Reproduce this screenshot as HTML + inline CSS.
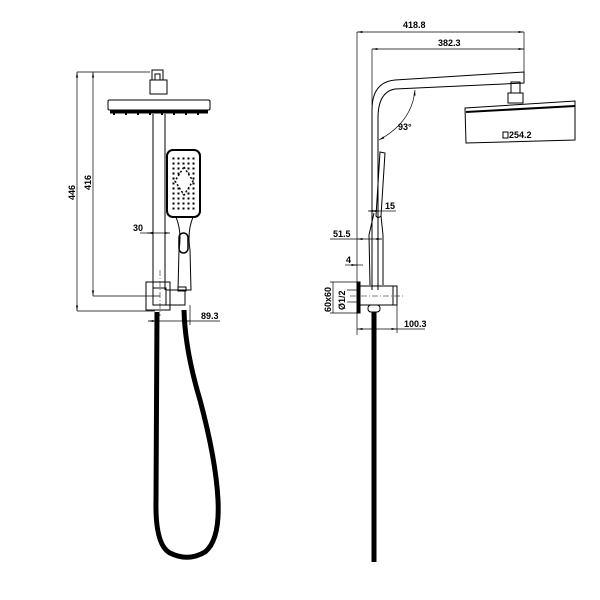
<!DOCTYPE html>
<html><head><style>body{margin:0;background:#fff}svg{display:block}text{font-family:"Liberation Sans",sans-serif;font-size:9px;font-weight:bold;fill:#000}</style></head><body>
<svg width="600" height="600" viewBox="0 0 600 600" xmlns="http://www.w3.org/2000/svg">
<defs><marker id="a" markerWidth="8" markerHeight="6" refX="8" refY="3" orient="auto-start-reverse"><path d="M0,1.5L8,3L0,4.5z" fill="#000"/></marker>
<pattern id="d" x="171" y="156" width="5" height="5" patternUnits="userSpaceOnUse"><rect x="1.5" y="1.5" width="2" height="2" fill="#000"/></pattern></defs>
<g fill="none" stroke="#000" stroke-width="1">
<line x1="77" y1="72" x2="150" y2="72" stroke-width="0.7"/>
<line x1="77" y1="311" x2="155" y2="311" stroke-width="0.7"/>
<line x1="77" y1="72" x2="77" y2="311" marker-start="url(#a)" marker-end="url(#a)" stroke-width="0.7"/>
<line x1="93" y1="72" x2="93" y2="296" marker-start="url(#a)" marker-end="url(#a)" stroke-width="0.7"/>
<line x1="93" y1="296" x2="160" y2="296" stroke-width="0.7"/>
<rect x="152" y="70" width="11" height="10"/><rect x="155" y="74" width="5" height="6"/>
<rect x="150" y="80" width="17" height="14"/>
<rect x="108" y="100" width="102" height="10" rx="1.5"/>
<line x1="110" y1="112" x2="208" y2="112" stroke-width="3"/>
<g stroke-width="2"><line x1="114" y1="110" x2="114" y2="115"/><line x1="126" y1="110" x2="126" y2="115"/><line x1="138" y1="110" x2="138" y2="115"/><line x1="150" y1="110" x2="150" y2="115"/><line x1="162" y1="110" x2="162" y2="115"/><line x1="174" y1="110" x2="174" y2="115"/><line x1="186" y1="110" x2="186" y2="115"/><line x1="198" y1="110" x2="198" y2="115"/></g>
<line x1="153" y1="114" x2="153" y2="290"/><line x1="165" y1="114" x2="165" y2="290"/>
<rect x="167" y="150" width="33" height="67" rx="6" stroke-width="2"/>
<path d="M176,217 Q182,232 179,250 L178,290 L191,290 L190,250 Q187,232 193,217"/>
<rect x="179" y="233" width="9" height="20" rx="4.5" stroke-width="1.5"/>
<line x1="147" y1="233" x2="170" y2="233" stroke-width="0.7" marker-start="url(#a)" marker-end="url(#a)"/>
<line x1="140" y1="233" x2="153" y2="233" stroke-width="0.7"/>
<rect x="146" y="282" width="24" height="28"/>
<rect x="153" y="288" width="13" height="17"/>
<rect x="166" y="290" width="19" height="15"/>
<rect x="178" y="287" width="8" height="4"/>
<line x1="160" y1="270" x2="160" y2="316" stroke-width="0.5" stroke-dasharray="6 2 1 2"/>
<line x1="148" y1="321" x2="190" y2="321" stroke-width="0.7" marker-start="url(#a)" marker-end="url(#a)"/>
<line x1="190" y1="321" x2="220" y2="321" stroke-width="0.7"/>
<line x1="190" y1="305" x2="190" y2="325" stroke-width="0.7"/>
<path d="M157,312 L156,500 Q155,545 170,553 Q188,562 205,552 Q220,540 218,500 Q216,460 200,400 Q185,350 184,310" stroke-width="5"/>
<line x1="357" y1="32" x2="524" y2="32" stroke-width="0.7" marker-start="url(#a)" marker-end="url(#a)"/>
<line x1="372" y1="49" x2="524" y2="49" stroke-width="0.7" marker-start="url(#a)" marker-end="url(#a)"/>
<line x1="357" y1="32" x2="357" y2="335" stroke-width="0.7"/>
<line x1="372" y1="49" x2="372" y2="105" stroke-width="0.7"/>
<line x1="524" y1="32" x2="524" y2="72" stroke-width="0.7"/>
<path d="M372,290 L372,110 Q372,82 395,80 L524,72 L524,83 L395,89 Q378,92 378,118 L378,290"/>
<path d="M415,90 Q412,122 379,140" stroke-width="0.7" marker-start="url(#a)" marker-end="url(#a)"/>
<rect x="511" y="82" width="9" height="11"/><rect x="508" y="93" width="15" height="10"/>
<path d="M465,108 L575,101 L575,140 L466,143 Z"/>
<line x1="466" y1="112" x2="575" y2="106" stroke-width="2"/>
<rect x="503" y="132" width="5" height="6"/>
<path d="M380,152 L385,153 L381,216 L378,218 L376,216 Z"/>
<path d="M374,213 L369,235 L370,285 M381,216 L383,235 L383,285"/>
<line x1="368" y1="211" x2="380" y2="211" stroke-width="0.7" marker-start="url(#a)" marker-end="url(#a)"/>
<line x1="380" y1="211" x2="396" y2="211" stroke-width="0.7"/>
<line x1="357" y1="239" x2="382" y2="239" stroke-width="0.7" marker-start="url(#a)" marker-end="url(#a)"/>
<line x1="330" y1="239" x2="357" y2="239" stroke-width="0.7"/>
<line x1="352" y1="265" x2="363" y2="265" stroke-width="0.7"/>
<line x1="345" y1="265" x2="357" y2="265" stroke-width="0.7" marker-end="url(#a)"/>
<rect x="357" y="282" width="3" height="31" fill="#000"/>
<rect x="360" y="286" width="37" height="19"/><line x1="393" y1="286" x2="393" y2="305"/>
<line x1="350" y1="296" x2="405" y2="296" stroke-width="0.5" stroke-dasharray="6 2 1 2"/>
<line x1="330" y1="282" x2="357" y2="282" stroke-width="0.7"/><line x1="330" y1="313" x2="357" y2="313" stroke-width="0.7"/>
<line x1="333" y1="282" x2="333" y2="313" stroke-width="0.7"/>
<line x1="347" y1="290" x2="360" y2="290" stroke-width="0.7"/><line x1="347" y1="302" x2="360" y2="302" stroke-width="0.7"/>
<rect x="368" y="305" width="12" height="7" rx="3"/>
<line x1="357" y1="329" x2="397" y2="329" stroke-width="0.7" marker-start="url(#a)" marker-end="url(#a)"/>
<line x1="397" y1="305" x2="397" y2="333" stroke-width="0.7"/>
<line x1="397" y1="329" x2="425" y2="329" stroke-width="0.7"/>
<line x1="374" y1="312" x2="374" y2="562" stroke-width="5"/>
</g>
<rect x="171" y="156" width="25" height="55" fill="url(#d)"/>
<path d="M184,167 L193,181 L184,195 L175,181Z" fill="#fff" stroke="#000" stroke-width="1.5" stroke-dasharray="2 2"/>
<text x="133" y="231">30</text>
<text x="201" y="319">89.3</text>
<text transform="translate(75,200) rotate(-90)">446</text>
<text transform="translate(91,190) rotate(-90)">416</text>
<text x="403" y="28">418.8</text>
<text x="438" y="46">382.3</text>
<text x="398" y="130">93°</text>
<text x="509" y="138">254.2</text>
<text x="385" y="209">15</text>
<text x="333" y="237">51.5</text>
<text x="346" y="263">4</text>
<text x="404" y="327">100.3</text>
<text transform="translate(331,312) rotate(-90)">60x60</text>
<text transform="translate(345,310) rotate(-90)">Ø1/2</text>
</svg>
</body></html>
